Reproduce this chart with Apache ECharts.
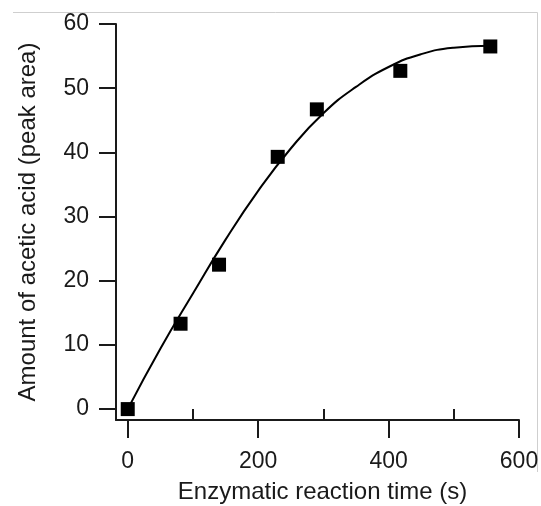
<!DOCTYPE html>
<html>
<head>
<meta charset="utf-8">
<script src="https://cdn.jsdelivr.net/npm/echarts@6/dist/echarts.min.js"></script>
<style>
  html, body { margin: 0; padding: 0; background: #fff; }
  #chart { width: 541px; height: 506px; }
</style>
</head>
<body>
<div id="chart"></div>
<script>
  // measured points
  const timeS = [0, 81, 140, 230, 290, 418, 556];
  const aceticArea = [0, 13.3, 22.5, 39.3, 46.7, 52.7, 56.5];

  // fitted curve
  const fitTime = [0, 50, 100, 150, 200, 250, 300, 350, 400, 450, 500, 556];
  const fitArea = [0, 9.4, 18.0, 26.4, 34.0, 40.6, 46.1, 50.2, 53.3, 55.3, 56.3, 56.6];

  // tick labels
  const xTicks = [0, 200, 400, 600];
  const xMinorTicks = [100, 300, 500];
  const yTicks = [0, 10, 20, 30, 40, 50, 60];

  const font = 'Liberation Sans, Arial, sans-serif';
  const ink = '#1a1a1a';

  const pairs = (xs, ys) => xs.map((x, i) => [x, ys[i]]);

  const chart = echarts.init(document.getElementById('chart'));
  chart.setOption({
    animation: false,
    backgroundColor: '#fff',
    grid: { left: 116, right: 22, top: 24, bottom: 86, containLabel: false, outerBoundsMode: 'none' },
    xAxis: [{
      type: 'value',
      min: -18, max: 600,
      name: 'Enzymatic reaction time (s)',
      nameLocation: 'middle',
      nameGap: 60,
      nameTextStyle: { fontFamily: font, fontSize: 24, color: ink, padding: [0, 0, 0, 10] },
      splitLine: { show: false },
      axisLine: { onZero: false, lineStyle: { color: ink, width: 2 } },
      axisTick: { customValues: xTicks, length: 18, lineStyle: { color: ink, width: 2 } },
      axisLabel: { customValues: xTicks, margin: 30, fontFamily: font, fontSize: 23, color: ink }
    }, {
      // short minor ticks
      type: 'value',
      min: -18, max: 600,
      position: 'bottom',
      splitLine: { show: false },
      axisLine: { show: false },
      axisTick: { customValues: xMinorTicks, length: 10, lineStyle: { color: ink, width: 2 } },
      axisLabel: { show: false }
    }],
    yAxis: {
      type: 'value',
      min: -1.7, max: 60,
      name: 'Amount of acetic acid (peak area)',
      nameLocation: 'middle',
      nameGap: 76,
      nameTextStyle: { fontFamily: font, fontSize: 24, color: ink },
      splitLine: { show: false },
      axisLine: { onZero: false, lineStyle: { color: ink, width: 2 } },
      axisTick: { customValues: yTicks, length: 17, lineStyle: { color: ink, width: 2 } },
      axisLabel: { customValues: yTicks, margin: 27, fontFamily: font, fontSize: 23, color: ink }
    },
    series: [{
      type: 'line',
      data: pairs(fitTime, fitArea),
      smooth: true,
      showSymbol: false,
      lineStyle: { color: '#000', width: 2 }
    }, {
      type: 'scatter',
      data: pairs(timeS, aceticArea),
      symbol: 'rect',
      symbolSize: 14,
      itemStyle: { color: '#000', opacity: 1 }
    }],
    graphic: [{
      type: 'polyline',
      shape: { points: [[13, 12.5], [537.5, 12.5], [537.5, 472]] },
      style: { stroke: '#cfcfcf', lineWidth: 1, fill: null }
    }]
  });
</script>
</body>
</html>
